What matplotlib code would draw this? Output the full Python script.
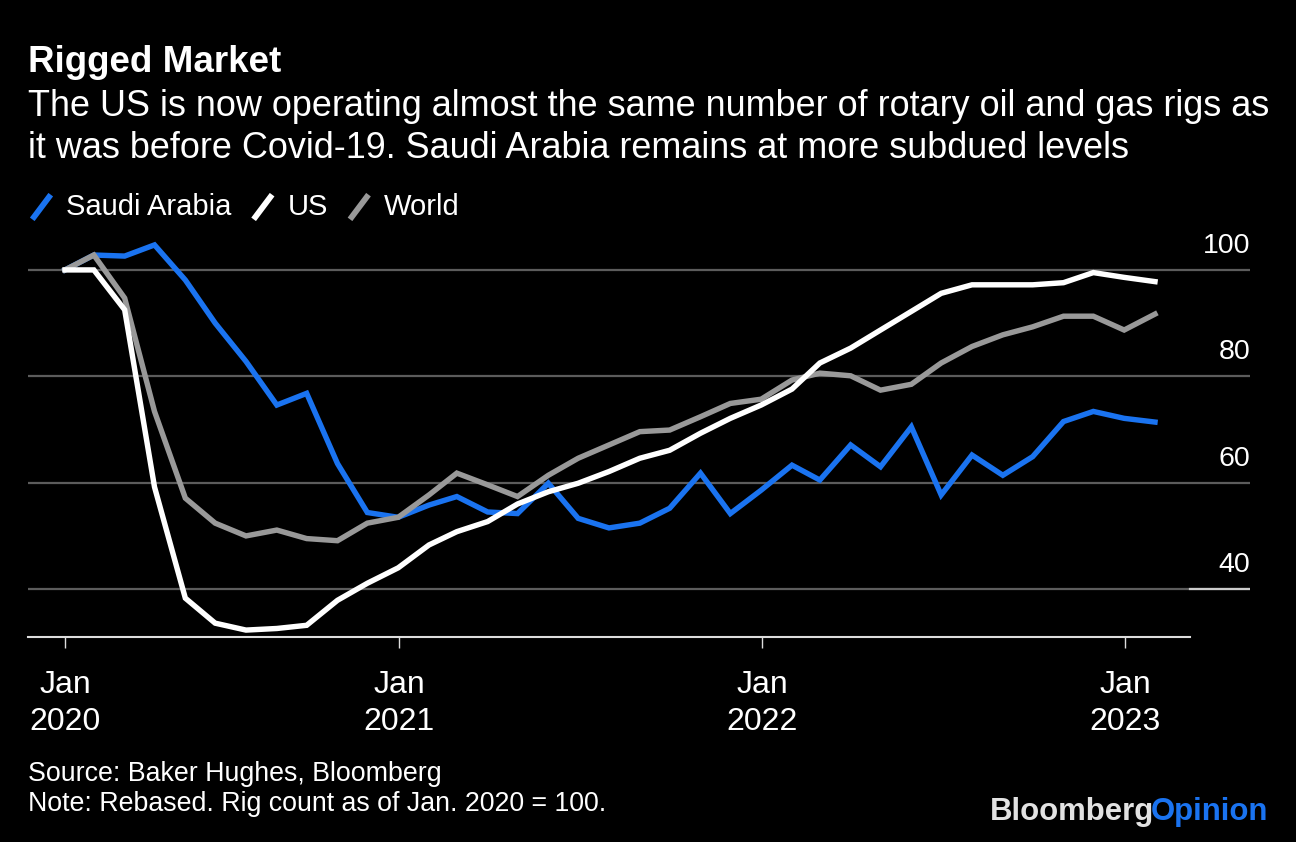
import matplotlib
matplotlib.use("Agg")
import matplotlib.pyplot as plt
import matplotlib.dates as mdates
import pandas as pd
from matplotlib.lines import Line2D

plt.rcParams['font.family'] = ['Liberation Sans', 'DejaVu Sans']

# monthly, Jan 2020 - Jan 2023, rebased Jan 2020 = 100
dates = pd.date_range("2020-01-31", "2023-01-31", freq="ME")

saudi = [100, 102.8, 102.6, 104.7, 98.1, 90.0, 82.8, 74.6, 76.8, 63.6, 54.4, 53.5,
         55.8, 57.4, 54.5, 54.2, 59.9, 53.3, 51.5, 52.4, 55.2, 61.8, 54.2, 58.6,
         63.3, 60.5, 67.1, 63.0, 70.5, 57.7, 65.2, 61.4, 64.9, 71.5, 73.4, 72.1, 71.4]
us = [100, 100, 92.5, 59.2, 38.3, 33.6, 32.3, 32.6, 33.2, 37.9, 41.1, 44.0,
      48.3, 50.8, 52.7, 56.0, 58.3, 59.9, 62.1, 64.6, 66.1, 69.3, 72.1, 74.6,
      77.6, 82.5, 85.3, 88.7, 92.2, 95.6, 97.2, 97.2, 97.2, 97.6, 99.5, 98.6, 97.8]
world = [100, 102.8, 94.7, 73.4, 57.1, 52.4, 50.0, 51.1, 49.5, 49.1, 52.4, 53.5,
         57.7, 61.8, 59.6, 57.4, 61.4, 64.6, 67.1, 69.6, 69.9, 72.4, 74.9, 75.7,
         79.3, 80.6, 80.1, 77.4, 78.5, 82.5, 85.6, 87.8, 89.3, 91.3, 91.3, 88.7, 91.7]

BLUE = "#1a73f0"
series = [("Saudi Arabia", saudi, BLUE), ("World", world, "#999999"), ("US", us, "#ffffff")]
legend_order = [("Saudi Arabia", BLUE), ("US", "#ffffff"), ("World", "#999999")]

y_ticks = [40, 60, 80, 100]
x_ticks = [pd.Timestamp("2020-01-31"), pd.Timestamp("2021-01-01"),
           pd.Timestamp("2022-01-01"), pd.Timestamp("2023-01-01")]
x_labels = ["Jan\n2020", "Jan\n2021", "Jan\n2022", "Jan\n2023"]

W, H = 1296, 842
fig = plt.figure(figsize=(W / 100, H / 100), dpi=100, facecolor="black")

def fy(py):
    return 1 - py / H

# axes placed in pixel units
left, right, bottom, top = 28, 1250, 637, 238
ax = fig.add_axes([left / W, 1 - bottom / H, (right - left) / W, (bottom - top) / H])
ax.set_facecolor("black")

ymin, ymax = 31, 106
ax.set_ylim(ymin, ymax)
px_per_unit = (bottom - top) / (ymax - ymin)
px_per_day = 363 / 365
start = mdates.date2num(dates[0])
ax.set_xlim(start - (65 - left) / px_per_day, start + (right - 65) / px_per_day)

axis_end = (1190 - left) / (right - left)
for v in y_ticks:
    ax.axhline(v, color="#5c5c5c", lw=1.6, zorder=1)
    ax.text(1.0, v + 17 / px_per_unit, str(v), transform=ax.get_yaxis_transform(),
            ha="right", va="baseline", color="white", fontsize=20.5)
# lighter stub on the lowest gridline, right of the plot area
ax.plot([axis_end, 1], [y_ticks[0]] * 2, transform=ax.get_yaxis_transform(),
        color="#cccccc", lw=1.6, zorder=2)

for name, vals, col in series:
    ax.plot(dates, vals, color=col, lw=3.9, solid_joinstyle="miter", zorder=3)

for s in ax.spines.values():
    s.set_visible(False)
ax.plot([0, axis_end], [0, 0], transform=ax.transAxes, color="#dddddd", lw=1.5,
        clip_on=False, zorder=4)
ax.set_yticks([])
ax.set_xticks(x_ticks)
ax.set_xticklabels(x_labels, color="white", fontsize=23, linespacing=1.27)
ax.tick_params(axis="x", length=8, width=1, color="#dddddd", pad=16)

# titles
fig.text(28 / W, fy(63), "Rigged Market", color="white", fontsize=26.5,
         fontweight="bold", va="center")
fig.text(28 / W, fy(106),
         "The US is now operating almost the same number of rotary oil and gas rigs as",
         color="white", fontsize=25.9, va="center")
fig.text(28 / W, fy(148),
         "it was before Covid-19. Saudi Arabia remains at more subdued levels",
         color="white", fontsize=25.9, va="center")

# legend
fig.canvas.draw()
renderer = fig.canvas.get_renderer()
x = 34
ly = fy(207)
for name, col in legend_order:
    fig.add_artist(Line2D([x / W, (x + 15) / W], [ly - 10 / H, ly + 10 / H],
                          color=col, lw=4.2, transform=fig.transFigure))
    t = fig.text((x + 32) / W, ly, name, color="white", fontsize=21, va="center")
    bb = t.get_window_extent(renderer)
    x = bb.x1 + 24

# footer
fig.text(28 / W, fy(774), "Source: Baker Hughes, Bloomberg", color="white",
         fontsize=19.3, va="center")
fig.text(28 / W, fy(804), "Note: Rebased. Rig count as of Jan. 2020 = 100.",
         color="white", fontsize=19.3, va="center")

op = fig.text(1268 / W, fy(812), "Opinion", color=BLUE, fontsize=22.4,
              fontweight="bold", va="center", ha="right")
bb = op.get_window_extent(renderer)
fig.text((bb.x0 + 3) / W, fy(812), "Bloomberg", color="#e2e2e2", fontsize=22.4,
         fontweight="bold", va="center", ha="right")

fig.savefig("out.png", dpi=100, facecolor="black")
